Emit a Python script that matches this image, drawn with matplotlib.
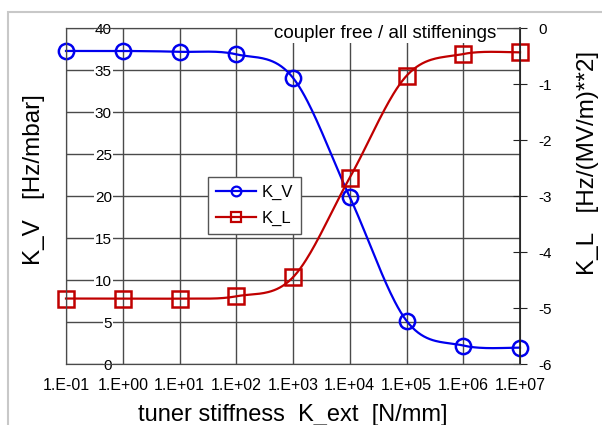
import numpy as np
import matplotlib.pyplot as plt
from matplotlib.patches import Rectangle

plt.rcParams['font.family'] = ['Liberation Sans', 'DejaVu Sans']
plt.rcParams['axes.unicode_minus'] = False

# tuner stiffness K_ext [N/mm]
k_ext = [1e-1, 1e0, 1e1, 1e2, 1e3, 1e4, 1e5, 1e6, 1e7]
xtick_labels = ['1.E-01', '1.E+00', '1.E+01', '1.E+02', '1.E+03',
                '1.E+04', '1.E+05', '1.E+06', '1.E+07']
# K_V [Hz/mbar], left axis
k_v = [37.3, 37.3, 37.2, 36.9, 34.1, 19.9, 5.15, 2.2, 1.95]
# K_L [Hz/(MV/m)**2], right axis
k_l = [-4.83, -4.83, -4.83, -4.79, -4.45, -2.67, -0.85, -0.46, -0.43]


def smooth(xs, ys, xlim, ylim, w=454.0, h=336.0, n=40):
    # excel-like smoothed line (catmull-rom bezier) done in screen space
    u = (np.log10(xs) - xlim[0]) / (xlim[1] - xlim[0]) * w
    v = (np.asarray(ys) - ylim[0]) / (ylim[1] - ylim[0]) * h
    p = np.column_stack([u, v])
    p = np.vstack([p[0], p, p[-1]])
    t = np.linspace(0, 1, n)[:, None]
    out = []
    for i in range(1, len(p) - 2):
        p0, p1, p2, p3 = p[i - 1], p[i], p[i + 1], p[i + 2]
        b1 = p1 + (p2 - p0) / 6
        b2 = p2 - (p3 - p1) / 6
        seg = ((1 - t) ** 3) * p1 + 3 * ((1 - t) ** 2) * t * b1 + 3 * (1 - t) * t ** 2 * b2 + t ** 3 * p2
        out.append(seg)
    out = np.vstack(out)
    xo = 10 ** (out[:, 0] / w * (xlim[1] - xlim[0]) + xlim[0])
    yo = out[:, 1] / h * (ylim[1] - ylim[0]) + ylim[0]
    return xo, yo


fig = plt.figure(figsize=(6.02, 4.25), dpi=100)
ax = fig.add_axes([66 / 602, 1 - 364 / 425, 454 / 602, 335.7 / 425])
ax2 = ax.twinx()

grid_c = '#4a4a4a'
blue = '#0000ee'
red = '#c00000'

ax.set_xscale('log')
ax.set_xlim(1e-1, 1e7)
ax.set_ylim(0, 40)
ax2.set_ylim(-6, 0)

ax.grid(True, which='major', color=grid_c, linewidth=1.0)
ax.set_axisbelow(True)
ax.set_xticks(k_ext)
ax.set_xticklabels(xtick_labels, fontsize=11.5)
ax.xaxis.set_minor_locator(plt.NullLocator())
ax.set_yticks(range(0, 41, 5))
ax.tick_params(axis='y', direction='in', length=0, pad=-33, labelsize=11)
for lab in ax.get_yticklabels():
    lab.set_bbox(dict(facecolor='white', edgecolor='none', pad=0.5))
ax.tick_params(axis='x', length=0, pad=10)

ax2.set_yticks(range(-6, 1))
ax2.tick_params(axis='y', direction='inout', length=10, color='#222222', labelsize=11, pad=8)

for a in (ax, ax2):
    for s in a.spines.values():
        s.set_color(grid_c)
ax2.spines['right'].set_color('#222222')
ax2.spines['right'].set_linewidth(1.2)

xs, ys = smooth(k_ext, k_v, (-1, 7), (0, 40))
ax.plot(xs, ys, color=blue, linewidth=1.6, clip_on=False)
ax.plot(k_ext, k_v, linestyle='none', marker='o', markersize=11, clip_on=False,
        markerfacecolor='none', markeredgecolor=blue, markeredgewidth=1.8)
xs, ys = smooth(k_ext, k_l, (-1, 7), (-6, 0))
ax2.plot(xs, ys, color=red, linewidth=1.6, clip_on=False)
ax2.plot(k_ext, k_l, linestyle='none', marker='s', markersize=11, clip_on=False,
         markerfacecolor='none', markeredgecolor=red, markeredgewidth=1.8)

# legend proxies
h1, = ax.plot([], [], color=blue, linewidth=1.6, marker='o', markersize=7,
              markerfacecolor='none', markeredgewidth=1.6)
h2, = ax.plot([], [], color=red, linewidth=1.6, marker='s', markersize=7,
              markerfacecolor='none', markeredgewidth=1.6)
leg = ax2.legend([h1, h2], ['K_V', 'K_L'], loc='upper left',
                 bbox_to_anchor=(208 / 602, 1 - 177 / 425), bbox_transform=fig.transFigure,
                 borderaxespad=0, fontsize=12, fancybox=False, framealpha=1,
                 edgecolor='#555555', handlelength=2.4, handletextpad=0.3,
                 borderpad=0.5, labelspacing=0.6)
leg.get_frame().set_linewidth(1.0)

ax.set_xlabel('tuner stiffness  K_ext  [N/mm]', fontsize=17, labelpad=8)
ax.set_ylabel('K_V   [Hz/mbar]', fontsize=17.5)
ax.yaxis.set_label_coords(-0.046, 0.55)
ax2.set_ylabel('K_L   [Hz/(MV/m)**2]', fontsize=17.5)
ax2.yaxis.set_label_coords(1.125, 0.60)

fig.text(385 / 602, 1 - 33 / 425, 'coupler free / all stiffenings', fontsize=13.5,
         ha='center', va='center', bbox=dict(facecolor='white', edgecolor='none', pad=1))

# screenshot frame
fig.patches.append(Rectangle((8 / 602, -0.01), 1.0, 1 - 12 / 425 + 0.01,
                             transform=fig.transFigure, fill=False,
                             edgecolor='#c8c8c8', linewidth=1.5))

fig.savefig('out.png', dpi=100)
